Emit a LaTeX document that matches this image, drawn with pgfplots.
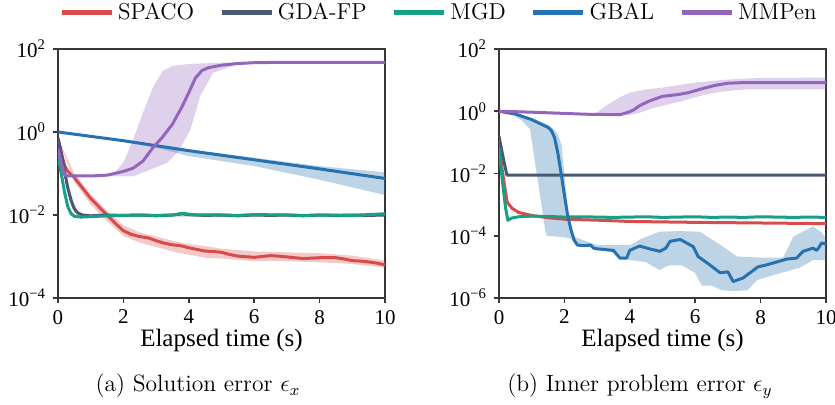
\documentclass[border=0pt]{standalone}
\usepackage{pgfplots}
\pgfplotsset{compat=1.18}
\usepackage{fontspec}
\newfontfamily\timesfont{Liberation Serif}
\definecolor{spaco}{RGB}{216,75,75}
\definecolor{gdafp}{RGB}{74,88,116}
\definecolor{mgd}{RGB}{22,160,133}
\definecolor{gbal}{RGB}{38,114,176}
\definecolor{mmpen}{RGB}{148,101,189}
\definecolor{axgray}{RGB}{55,55,55}
\begin{document}
\begin{tikzpicture}
\useasboundingbox (0pt,0pt) rectangle (417.5pt,202.5pt);
% ---------------- left panel ----------------
\begin{axis}[at={(29pt,53.5pt)}, anchor=south west,
  scale only axis, width=163.5pt, height=124.5pt,
  xmin=0, xmax=10, ymode=log,
  xtick={0,2,4,6,8,10}, xticklabels={0,2,4,6,8,10},
  tick pos=left, tick align=outside, major tick length=2.5pt,
  axis line style={draw=axgray, line width=1.15pt},
  major tick style={draw=axgray, line width=0.8pt},
  yminorticks=false,
  ticklabel style={font=\timesfont\fontsize{10.5}{12}\selectfont},
  xlabel={Elapsed time (s)},
  xlabel style={font=\timesfont\fontsize{12.5}{14}\selectfont, at={(axis description cs:0.5,0)}, anchor=base, yshift=-24.5pt},
  ymin=1e-4, ymax=1e2,
  ytick={1e-4,1e-2,1,1e2},
  yticklabels={10\textsuperscript{−4},10\textsuperscript{−2},10\textsuperscript{0},10\textsuperscript{2}},
  legend columns=5,
  legend style={draw=none, fill=none, at={(1.168,1.145)}, anchor=center,
    font=\fontsize{11.5}{13}\selectfont, inner sep=0pt,
    /tikz/every even column/.append style={column sep=10.5pt}},
  legend cell align=left,
  legend image code/.code={
    \draw[#1, line width=2.4pt] (0pt,0pt) -- (25pt,0pt);},
]
% bands
\addplot[draw=none, fill=spaco, fill opacity=0.3, forget plot] coordinates {
(0,0.708)(0.5,0.1)(1.0,0.0316)(1.5,0.0126)(2.0,0.00562)(2.5,0.0038)(3.0,0.00302)(3.5,0.0024)(4.0,0.002)(4.5,0.00178)(5,0.00155)(6,0.00132)(7,0.00126)(8,0.0012)(9,0.00105)(10,0.000794)
(10,0.000537)(9,0.000661)(8,0.000724)(7,0.000776)(6,0.000776)(5,0.000891)(4.5,0.000933)(4,0.0011)(3.5,0.00132)(3,0.0017)(2.5,0.00214)(2.0,0.00316)(1.5,0.00708)(1.0,0.0178)(0.5,0.0631)(0,0.708)};
\addplot[draw=none, fill=gdafp, fill opacity=0.3, forget plot] coordinates {
(0,0.708)(0.1,0.355)(0.2,0.141)(0.3,0.0631)(0.4,0.0316)(0.5,0.0178)(0.6,0.0126)(0.75,0.0107)(1.0,0.0102)(10,0.0105)
(10,0.0093)(1.0,0.0091)(0.75,0.0093)(0.6,0.0102)(0.5,0.012)(0.4,0.0178)(0.3,0.0355)(0.2,0.0891)(0.1,0.282)(0,0.708)};
\addplot[draw=none, fill=gbal, fill opacity=0.3, forget plot] coordinates {
(0,1)(2,0.646)(4,0.38)(6,0.24)(8,0.151)(10,0.107)
(10,0.0302)(8,0.0708)(6,0.151)(4,0.263)(3,0.417)(2,0.575)(0,1)};
\addplot[draw=none, fill=mmpen, fill opacity=0.3, forget plot] coordinates {
(0,0.398)(0.3,0.0891)(1.5,0.0891)(1.7,0.1)(2.0,0.182)(2.3,0.661)(2.6,2.951)(2.9,11.75)(3.2,29.51)(3.5,38.9)(4.0,43.65)(5,46.77)(6,47.86)(10,48.98)
(10,46.77)(6,44.67)(5.4,40.74)(4.75,26.92)(4.35,7.413)(4.05,1.148)(3.7,0.355)(3.35,0.182)(2.3,0.0851)(0.3,0.0851)(0,0.398)};
% lines
\addplot[line width=1.5pt, line join=round, spaco] coordinates {
(0,0.708)(0.1,0.316)(0.2,0.158)(0.3,0.1122)(0.5,0.0794)(0.75,0.0447)(1.0,0.0251)(1.25,0.0158)(1.5,0.01)(1.75,0.00631)(2.0,0.00417)(2.25,0.00339)(2.5,0.00302)(2.75,0.00282)(3.0,0.0024)(3.25,0.00209)(3.5,0.00191)(3.75,0.00182)(4.0,0.00162)(4.25,0.00148)(4.5,0.00135)(4.75,0.00132)(5.0,0.00126)(5.25,0.00112)(5.5,0.00102)(6.0,0.000955)(6.25,0.001)(6.5,0.00105)(6.75,0.00102)(7.0,0.000977)(7.5,0.000891)(8.0,0.000933)(8.5,0.000933)(8.75,0.000871)(9.0,0.000794)(9.25,0.000776)(9.5,0.000741)(9.75,0.000692)(10,0.000631)};
\addlegendentry{SPACO}
\addplot[line width=1.5pt, line join=round, gdafp] coordinates {
(0,0.708)(0.1,0.316)(0.2,0.1122)(0.3,0.0447)(0.4,0.0224)(0.5,0.0141)(0.6,0.0112)(0.75,0.01)(1.0,0.00955)(1.5,0.01)(2,0.00977)(2.5,0.01)(3,0.00955)(3.5,0.01)(3.8,0.0107)(4.0,0.0102)(4.5,0.00977)(5,0.01)(5.5,0.00955)(6,0.01)(6.5,0.00977)(7,0.01)(7.5,0.00955)(8,0.01)(8.5,0.00977)(9,0.01)(9.5,0.00977)(10,0.01)};
\addlegendentry{GDA-FP}
\addplot[line width=1.5pt, line join=round, mgd] coordinates {
(0,0.251)(0.1,0.1)(0.2,0.0355)(0.3,0.0158)(0.4,0.0107)(0.5,0.00933)(0.7,0.00891)(1.0,0.00912)(1.5,0.00955)(2,0.00977)(2.5,0.01)(3,0.00977)(3.5,0.01)(3.8,0.01096)(4.2,0.01)(5,0.01)(5.5,0.00977)(6,0.01023)(7,0.01)(7.5,0.00977)(8,0.01)(9,0.00977)(9.5,0.01023)(10,0.01072)};
\addlegendentry{MGD}
\addplot[line width=1.5pt, line join=round, gbal] coordinates {
(0,1)(2,0.617)(4,0.355)(6,0.214)(8,0.129)(10,0.0759)};
\addlegendentry{GBAL}
\addplot[line width=1.5pt, line join=round, mmpen] coordinates {
(0,0.398)(0.1,0.178)(0.2,0.0933)(0.3,0.0871)(1.0,0.0871)(1.5,0.0912)(2.0,0.1122)(2.3,0.1349)(2.6,0.1995)(2.9,0.417)(3.2,0.759)(3.5,1.549)(3.8,4.169)(4.0,8.913)(4.2,19.95)(4.4,30.2)(4.6,35.48)(5.0,40.74)(5.5,44.67)(6,46.77)(7,47.86)(10,47.86)};
\addlegendentry{MMPen}
\end{axis}
% ---------------- right panel ----------------
\begin{axis}[at={(249.5pt,53.5pt)}, anchor=south west,
  scale only axis, width=163.5pt, height=124.5pt,
  xmin=0, xmax=10, ymode=log,
  xtick={0,2,4,6,8,10}, xticklabels={0,2,4,6,8,10},
  tick pos=left, tick align=outside, major tick length=2.5pt,
  axis line style={draw=axgray, line width=1.15pt},
  major tick style={draw=axgray, line width=0.8pt},
  yminorticks=false,
  ticklabel style={font=\timesfont\fontsize{10.5}{12}\selectfont},
  xlabel={Elapsed time (s)},
  xlabel style={font=\timesfont\fontsize{12.5}{14}\selectfont, at={(axis description cs:0.5,0)}, anchor=base, yshift=-24.5pt},
  ymin=1e-6, ymax=1e2,
  ytick={1e-6,1e-4,1e-2,1,1e2},
  yticklabels={10\textsuperscript{−6},10\textsuperscript{−4},10\textsuperscript{−2},10\textsuperscript{0},10\textsuperscript{2}},
]
\addplot[draw=none, fill=gbal, fill opacity=0.3, forget plot] coordinates {
(0,1)(0.5,0.871)(1.0,0.603)(1.5,0.372)(1.7,0.251)(1.82,0.158)(1.92,0.0759)(1.99,0.0105)(2.07,0.00186)(2.12,0.000427)(2.22,1e-4)(2.6,7.08e-5)(3.0,5.01e-5)(3.5,5.01e-5)(4.0,5.01e-5)(4.3,7.59e-5)(4.9,1.35e-4)(5.5,1.41e-4)(6.15,1.35e-4)(6.85,4.47e-5)(7.28,2.14e-5)(8.0,2.0e-5)(8.69,2.0e-5)(9.0,9.33e-5)(9.6,2.0e-4)(9.87,1.26e-4)(10,7.94e-5)
(10,1.66e-5)(9.6,1.66e-5)(9.2,9.33e-6)(8.6,6.31e-6)(7.9,3.8e-6)(7.6,1.78e-6)(7.2,1.66e-6)(6.8,1.78e-6)(6.5,2.51e-6)(6.2,2.51e-6)(6.0,6.31e-6)(5.6,1.12e-5)(5.2,1.12e-5)(4.9,7.94e-6)(4.5,1.41e-5)(4.0,1.66e-5)(3.8,1.78e-5)(3.5,2.82e-5)(3.0,3.98e-5)(2.5,5.01e-5)(2.2,7.94e-5)(2.0,8.91e-5)(1.46,1e-4)(1.41,1.58e-4)(1.26,0.00186)(1.1,0.0219)(0.95,0.263)(0.7,0.501)(0.4,0.794)(0,1)};
\addplot[draw=none, fill=mmpen, fill opacity=0.3, forget plot] coordinates {
(0,1)(2.8,0.794)(3.0,0.912)(3.3,1.585)(3.7,2.818)(4.0,3.981)(4.5,5.012)(5.0,5.754)(6.0,8.318)(7.0,10.47)(8.0,11.75)(10,12.02)
(10,5.012)(7.5,5.012)(7.0,4.467)(6.5,3.802)(6.0,2.818)(5.5,1.995)(5.0,1.514)(4.7,1.259)(4.3,0.891)(4.0,0.759)(3.7,0.759)(2.8,0.78)(0,0.98)};
\addplot[line width=1.5pt, line join=round, spaco] coordinates {
(0,0.1)(0.1,0.0126)(0.2,0.00251)(0.25,0.0012)(0.4,0.000759)(0.6,0.000562)(1.0,0.000447)(1.5,0.00038)(2,0.000339)(3,0.000316)(4,0.000288)(6,0.000269)(8,0.000257)(10,0.000245)};
\addplot[line width=1.5pt, line join=round, gdafp] coordinates {
(0,0.158)(0.1,0.0447)(0.24,0.00891)(10,0.00891)};
\addplot[line width=1.5pt, line join=round, mgd] coordinates {
(0,0.0631)(0.1,0.00631)(0.2,0.000794)(0.27,0.000316)(0.4,0.000372)(0.6,0.000407)(1,0.000427)(1.5,0.000417)(2,0.000398)(2.5,0.000407)(3,0.000398)(3.5,0.000389)(4,0.000398)(4.5,0.000407)(5,0.000389)(5.5,0.000398)(6,0.000407)(6.5,0.000389)(7,0.000398)(7.5,0.000389)(8,0.000407)(8.5,0.000398)(9,0.000389)(9.5,0.000398)(10,0.000389)};
\addplot[line width=1.5pt, line join=round, gbal] coordinates {
(0,1)(0.5,0.813)(1.0,0.537)(1.3,0.38)(1.5,0.302)(1.6,0.24)(1.7,0.141)(1.8,0.0447)(1.9,0.01)(2.0,0.002)(2.1,0.000447)(2.2,0.000158)(2.3,7.08e-5)(2.4,5.01e-5)(2.6,4.79e-5)(2.8,5.01e-5)(2.9,3.98e-5)(3.0,3.8e-5)(3.2,3.63e-5)(3.5,3.39e-5)(3.6,2.51e-5)(3.7,1.91e-5)(3.9,1.91e-5)(4.0,3.39e-5)(4.3,4.68e-5)(4.6,3.8e-5)(4.92,3.16e-5)(5.1,3.98e-5)(5.23,6.61e-5)(5.54,7.59e-5)(5.94,4.47e-5)(6.09,2.14e-5)(6.4,1.26e-5)(6.76,6.46e-6)(7.0,6.92e-6)(7.16,3.39e-6)(7.46,4.37e-6)(7.92,1.0e-5)(8.2,1.17e-5)(8.8,1.78e-5)(9.1,1.91e-5)(9.3,3.16e-5)(9.6,3.98e-5)(9.72,3.39e-5)(9.87,5.89e-5)(10,5.37e-5)};
\addplot[line width=1.5pt, line join=round, mmpen] coordinates {
(0,1)(1,0.933)(2,0.851)(2.8,0.794)(3.7,0.776)(3.9,0.891)(4.1,1.072)(4.3,1.514)(4.6,2.138)(5.0,3.02)(5.5,3.467)(5.8,3.981)(6.2,5.248)(6.6,6.761)(7.0,7.943)(7.5,8.318)(10,8.318)};
\end{axis}
\node[anchor=base, font=\fontsize{11.8}{14}\selectfont] at (99pt,6.5pt) {(a) Solution error $\epsilon_x$};
\node[anchor=base, font=\fontsize{11.8}{14}\selectfont] at (320pt,6.5pt) {(b) Inner problem error $\epsilon_y$};
\end{tikzpicture}
\end{document}
